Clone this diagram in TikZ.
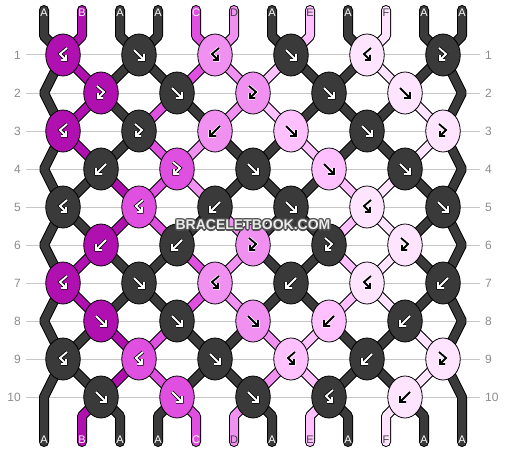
\documentclass[tikz,border=0pt]{standalone}
\usepackage{fontspec}
\setmainfont{Liberation Sans}
\usetikzlibrary{shapes.geometric,backgrounds}
\definecolor{cA}{HTML}{3A3A3A}
\definecolor{cB}{HTML}{B010B0}
\definecolor{cC}{HTML}{E050E0}
\definecolor{cD}{HTML}{F090F0}
\definecolor{cE}{HTML}{FFC0FF}
\definecolor{cF}{HTML}{FFE4FF}
\definecolor{wmgray}{HTML}{505050}
\newcommand\wmword{BRACELETBOOK.COM}
\newcommand\wmcopy[2]{\rlap{\hspace*{#1pt}\raisebox{#2pt}{\textcolor{wmgray}{\wmword}}}}
\tikzset{
  Wout/.style={draw=black, line width=3.4pt},
  Win/.style={draw=white, line width=1.8pt},
  Kout/.style={draw=white, line width=3.4pt},
  Kin/.style={draw=black, line width=1.8pt},
  pics/af/.style={code={
    \draw[#1out] (-5,-5)--(5,5) (5,-1)--(5,5)--(-1,5);
    \draw[#1in] (-5,-5)--(5,5) (5,-1)--(5,5)--(-1,5);}},
  pics/ab/.style={code={
    \draw[#1out] (5,-5)--(-5,5) (-5,-1)--(-5,5)--(1,5);
    \draw[#1in] (5,-5)--(-5,5) (-5,-1)--(-5,5)--(1,5);}},
  pics/afb/.style={code={
    \draw[#1out] (-4,-7)--(3,-1)--(-3,5) (-3,0)--(-3,5)--(2,5);
    \draw[#1in] (-4,-7)--(3,-1)--(-3,5) (-3,0)--(-3,5)--(2,5);}},
  pics/abf/.style={code={
    \draw[#1out] (4,-7)--(-3,-1)--(3,5) (3,0)--(3,5)--(-2,5);
    \draw[#1in] (4,-7)--(-3,-1)--(3,5) (3,0)--(3,5)--(-2,5);}},
}
\begin{document}
\begin{tikzpicture}[x=1pt,y=-1pt,
  knot/.style={ellipse, draw=black, line width=0.8pt, minimum width=34.5pt, minimum height=42pt, inner sep=0pt},
  str/.style={draw=black, line width=1pt, double distance=8pt, line join=bevel},
  strend/.style={str, line cap=round},
  lab/.style={font=\fontsize{11}{12}\selectfont, inner sep=0pt},
  rowlab/.style={font=\fontsize{12}{14}\selectfont, text=black!45, inner sep=0pt},
  gridline/.style={draw=black!22, line width=1pt},
  wm/.style={font=\fontsize{14}{16}\selectfont\bfseries, inner sep=0pt}]
\useasboundingbox (0,0) rectangle (506,452);

% knots
\foreach \ri/\ki/\kc/\ky/\kf in {
 1/1/B/bf/W,1/2/A/f/W,1/3/D/bf/K,1/4/A/f/W,1/5/F/bf/K,1/6/A/fb/W,
 2/1/B/fb/W,2/2/A/f/W,2/3/D/fb/K,2/4/A/f/W,2/5/F/f/K,
 3/1/B/bf/W,3/2/A/fb/W,3/3/D/b/K,3/4/E/f/K,3/5/A/f/W,3/6/F/fb/K,
 4/1/A/b/W,4/2/C/fb/W,4/3/A/f/W,4/4/E/f/K,4/5/A/f/W,
 5/1/A/bf/W,5/2/C/bf/W,5/3/A/b/W,5/4/A/f/W,5/5/F/bf/K,5/6/A/f/W,
 6/1/B/b/W,6/2/A/b/W,6/3/D/fb/K,6/4/A/fb/W,6/5/F/fb/K,
 7/1/B/bf/W,7/2/A/f/W,7/3/D/bf/K,7/4/A/b/W,7/5/F/bf/K,7/6/A/b/W,
 8/1/B/f/W,8/2/A/f/W,8/3/D/f/K,8/4/E/b/K,8/5/A/b/W,
 9/1/A/bf/W,9/2/C/bf/W,9/3/A/f/W,9/4/E/bf/K,9/5/A/b/W,9/6/F/fb/K,
 10/1/A/f/W,10/2/C/f/W,10/3/A/f/W,10/4/A/bf/W,10/5/F/b/K}{
  \pgfmathsetmacro\yy{55+38*(\ri-1)}
  \pgfmathtruncatemacro\od{mod(\ri,2)}
  \ifnum\od=1 \pgfmathsetmacro\xx{63+76*(\ki-1)}\else\pgfmathsetmacro\xx{101+76*(\ki-1)}\fi
  \node[knot, fill=c\kc] (k\ri-\ki) at (\xx,\yy) {};
  \pic at (k\ri-\ki.center) {a\ky=\kf};
}

% coordinates
\foreach \ri in {2,4,6,8,10}{
  \pgfmathsetmacro\yy{55+38*(\ri-1)}
  \coordinate (L\ri) at (44,\yy);
  \coordinate (R\ri) at (462,\yy);
}
\foreach \p in {1,...,12}{
  \pgfmathsetmacro\xx{44+38*(\p-1)}
  \coordinate (ts\p) at (\xx,10);
  \coordinate (tb\p) at (\xx,36);
  \coordinate (bb\p) at (\xx,416);
  \coordinate (be\p) at (\xx,442);
}

\begin{pgfonlayer}{background}
\fill[white] (0,0) rectangle (506,452);
\foreach \ri in {1,...,10}{
  \pgfmathsetmacro\yy{55+38*(\ri-1)}
  \coordinate (gl\ri) at (26,\yy);
  \coordinate (gr\ri) at (480,\yy);
  \draw[gridline] (gl\ri) -- (gr\ri);
}
% strings between knots
\foreach \ri/\qa/\qb/\qc/\qd/\qe/\qf/\qg/\qh/\qi/\qj in {
 1/B/A/A/C/D/E/A/A/F/A,
 2/B/A/C/A/D/E/A/A/A/F,
 3/B/A/C/D/A/A/E/A/A/F,
 4/A/B/C/D/A/A/A/E/F/A,
 5/A/B/C/A/D/A/A/E/F/A,
 6/B/A/A/C/D/A/A/E/F/A,
 7/B/A/A/C/D/A/A/E/F/A,
 8/A/B/C/A/A/D/E/A/A/F,
 9/A/B/C/A/A/D/E/A/A/F}{
  \foreach \p/\sc in {2/\qa,3/\qb,4/\qc,5/\qd,6/\qe,7/\qf,8/\qg,9/\qh,10/\qi,11/\qj}{
    \pgfmathtruncatemacro\rn{\ri+1}
    \pgfmathtruncatemacro\od{mod(\ri,2)}
    \pgfmathtruncatemacro\pu{(\p+1)/2}
    \pgfmathtruncatemacro\pd{\p/2}
    \ifnum\od=1 \edef\sa{\pu}\edef\ta{\pd}\else\edef\sa{\pd}\edef\ta{\pu}\fi
    \draw[str, double=c\sc] (k\ri-\sa.center) -- (k\rn-\ta.center);
  }
}
% edge strings
\foreach \ri in {2,4,6,8}{
  \pgfmathtruncatemacro\ra{\ri-1}
  \pgfmathtruncatemacro\rb{\ri+1}
  \draw[str, double=cA] (k\ra-1.center) -- (L\ri) -- (k\rb-1.center);
  \draw[str, double=cA] (k\ra-6.center) -- (R\ri) -- (k\rb-6.center);
}
% top strings
\foreach \p/\sc in {1/A,2/B,3/A,4/A,5/C,6/D,7/A,8/E,9/A,10/F,11/A,12/A}{
  \pgfmathtruncatemacro\pu{(\p+1)/2}
  \draw[strend, double=c\sc] (ts\p) -- (tb\p) -- (k1-\pu.center);
}
% bottom strings
\foreach \p/\sc in {2/B,3/A,4/A,5/C,6/D,7/A,8/E,9/A,10/F,11/A}{
  \pgfmathtruncatemacro\pd{\p/2}
  \draw[strend, double=c\sc] (k10-\pd.center) -- (bb\p) -- (be\p);
}
\draw[strend, double=cA] (k9-1.center) -- (L10) -- (be1);
\draw[strend, double=cA] (k9-6.center) -- (R10) -- (be12);
\end{pgfonlayer}

% row numbers
\foreach \ri in {1,...,10}{
  \pgfmathsetmacro\yy{55+38*(\ri-1)}
  \node[rowlab, anchor=east] (nl\ri) at (21,\yy) {\ri};
  \node[rowlab, anchor=west] (nr\ri) at (485,\yy) {\ri};
}

% string labels
\foreach \p/\sc/\tc in {1/A/white,2/B/white,3/A/white,4/A/white,5/C/white,6/D/black!75,7/A/white,8/E/black!75,9/A/white,10/F/black!75,11/A/white,12/A/white}{
  \pgfmathsetmacro\xx{44+38*(\p-1)}
  \node[lab, text=\tc] (lt\p) at (\xx,12.5) {\sc};
  \node[lab, text=\tc] (lb\p) at (\xx,440) {\sc};
}

% watermark (outlined text in one node)
\node[wm] (wm) at (253,225) {\wmcopy{-1.3}{0}\wmcopy{1.3}{0}\wmcopy{0}{-1.3}\wmcopy{0}{1.3}\wmcopy{-0.95}{-0.95}\wmcopy{0.95}{0.95}\wmcopy{-0.95}{0.95}\wmcopy{0.95}{-0.95}\textcolor{white!92!black}{\wmword}};
\end{tikzpicture}
\end{document}
